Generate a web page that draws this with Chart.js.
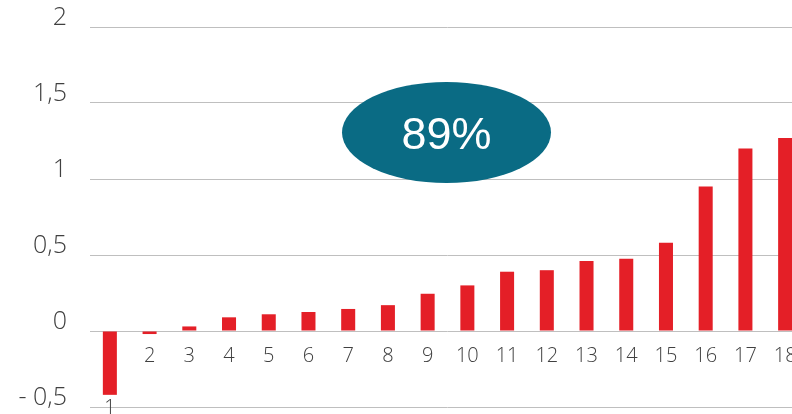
<!DOCTYPE html>
<html>
<head>
<meta charset="utf-8">
<script src="https://cdn.jsdelivr.net/npm/chart.js@4/dist/chart.umd.min.js"></script>
<style>
  html, body { margin: 0; padding: 0; overflow: hidden; background: #ffffff; width: 792px; height: 414px; }
  #wrap { position: absolute; left: 0; top: 0; width: 805px; height: 414px; }
</style>
</head>
<body>
<div id="wrap"><canvas id="c"></canvas></div>
<script>
const categories = ['1','2','3','4','5','6','7','8','9','10','11','12','13','14','15','16','17','18'];
const values = [-0.42, -0.02, 0.03, 0.09, 0.11, 0.125, 0.145, 0.17, 0.245, 0.30, 0.39, 0.40, 0.46, 0.475, 0.58, 0.95, 1.20, 1.27];
const yTickValues = [-0.5, 0, 0.5, 1, 1.5, 2];
const yTickLabels = ['- 0,5', '0', '0,5', '1', '1,5', '2'];
const badgeText = '89%';

const FONT = '"Open Sans", "DejaVu Sans", sans-serif';

const overlayPlugin = {
  id: 'overlay',
  afterDatasetsDraw(chart) {
    const ctx = chart.ctx;
    const y = chart.scales.y;
    const meta = chart.getDatasetMeta(0);
    const zeroY = y.getPixelForValue(0);
    ctx.save();
    // category labels: beside the axis, or below a bar that reaches far under it
    ctx.font = '300 20px ' + FONT;
    ctx.fillStyle = '#404040';
    ctx.textAlign = 'center';
    ctx.textBaseline = 'alphabetic';
    meta.data.forEach((bar, i) => {
      const below = bar.y - zeroY > 20;
      const by = below ? bar.y + 19 : zeroY + 31;
      ctx.fillText(categories[i], bar.x, by);
    });
    // badge ellipse
    ctx.beginPath();
    ctx.ellipse(446.5, 132.5, 104.5, 50.5, 0, 0, Math.PI * 2);
    ctx.fillStyle = '#0a6b84';
    ctx.fill();
    ctx.font = '45px "Liberation Sans", Arial, sans-serif';
    ctx.fillStyle = '#ffffff';
    ctx.textAlign = 'center';
    ctx.textBaseline = 'alphabetic';
    ctx.fillText(badgeText, 446.5, 149.3);
    ctx.restore();
  }
};

new Chart(document.getElementById('c'), {
  type: 'bar',
  data: {
    labels: categories,
    datasets: [{
      data: values,
      backgroundColor: '#e41f27',
      borderWidth: 0,
      barPercentage: 0.353,
      categoryPercentage: 1.0
    }]
  },
  options: {
    responsive: true,
    maintainAspectRatio: false,
    devicePixelRatio: 1,
    animation: false,
    layout: { padding: { left: 0, right: 0, top: 27, bottom: 7 } },
    plugins: { legend: { display: false }, tooltip: { enabled: false } },
    scales: {
      x: { display: false },
      y: {
        min: -0.5,
        max: 2,
        afterBuildTicks(scale) { scale.ticks = yTickValues.map(v => ({ value: v })); },
        afterFit(scale) { scale.width = 90; scale.paddingTop = 0; scale.paddingBottom = 0; },
        border: { display: false },
        grid: { color: '#bfbfbf', lineWidth: 1, drawTicks: false },
        ticks: {
          padding: 23,
          labelOffset: -9,
          color: '#404040',
          font: { family: FONT, size: 25, weight: '300' },
          callback(value) {
            const idx = yTickValues.indexOf(value);
            return idx >= 0 ? yTickLabels[idx] : '';
          }
        }
      }
    }
  },
  plugins: [overlayPlugin]
});
</script>
</body>
</html>
